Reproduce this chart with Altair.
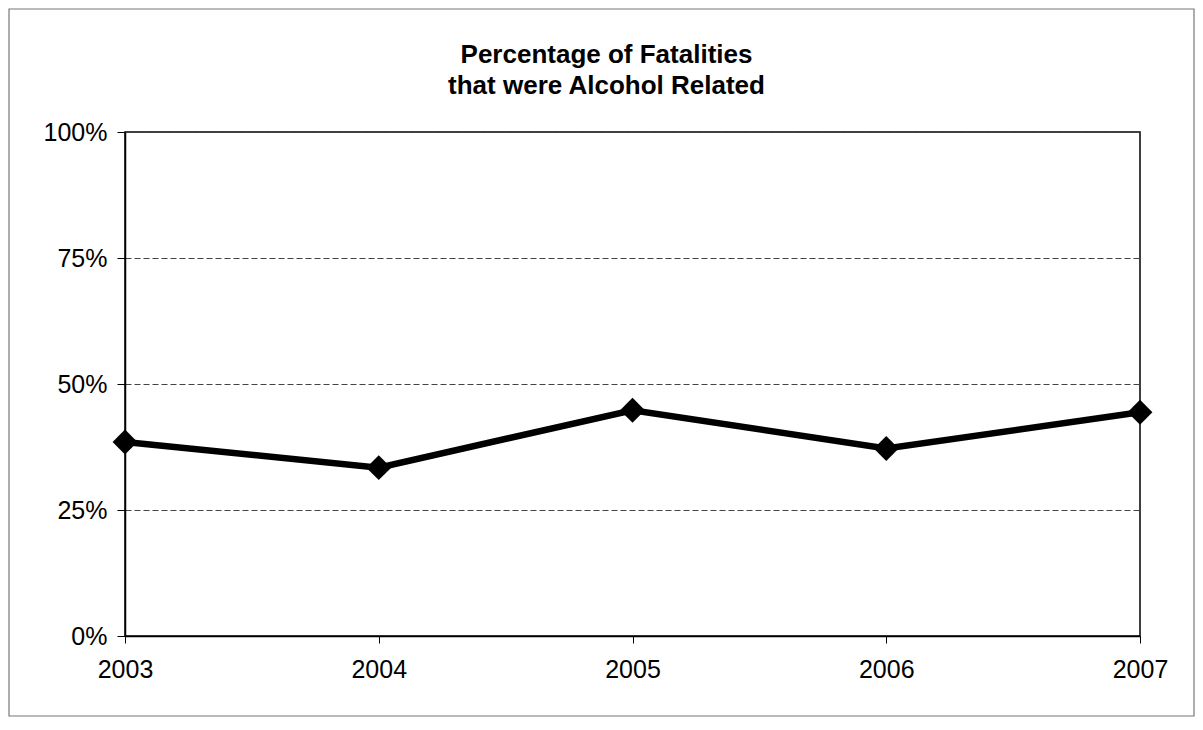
import altair as alt
import pandas as pd

years = [2003, 2004, 2005, 2006, 2007]
pct = [0.385, 0.334, 0.448, 0.372, 0.444]
y_ticks = [0, 0.25, 0.5, 0.75, 1.0]
title_lines = ["Percentage of Fatalities", "that were Alcohol Related"]

df = pd.DataFrame({"year": years, "pct": pct})
FONT = "Liberation Sans"

x_enc = alt.X("year:Q",
              scale=alt.Scale(domain=[2003, 2007], nice=False, zero=False),
              axis=alt.Axis(values=years, format="d", title=None, grid=False,
                            labelFontSize=25, labelFont=FONT, labelColor="black",
                            labelPadding=14, tickSize=7, tickColor="black",
                            domainColor="black", domainWidth=1.5, labelFlush=False))
y_enc = alt.Y("pct:Q",
              scale=alt.Scale(domain=[0, 1], nice=False),
              axis=alt.Axis(values=y_ticks, format=".0%", title=None, grid=True,
                            gridColor="#444", gridDash=[6, 3], gridWidth=1,
                            labelFontSize=25, labelFont=FONT, labelColor="black",
                            labelPadding=10, tickSize=8, tickColor="black",
                            domainColor="black", domainWidth=1.5))

base = alt.Chart(df)
line = base.mark_line(color="black", strokeWidth=6.5).encode(x=x_enc, y=y_enc)
pts = base.mark_point(shape="diamond", filled=True, color="black", size=620, opacity=1).encode(x=x_enc, y=y_enc)

frame = alt.Chart(pd.DataFrame({"k": [0]})).mark_rect(
    fill=None, stroke="#777", strokeWidth=1.2
).encode(x=alt.value(-116), x2=alt.value(1069), y=alt.value(-123), y2=alt.value(584))

chart = alt.layer(frame, line, pts).properties(
    width=1015, height=504,
    title=alt.TitleParams(text=title_lines, fontSize=26, font=FONT, fontWeight="bold",
                          color="black", anchor="middle", frame="group", dx=-26,
                          offset=-91, lineHeight=31),
    autosize=alt.AutoSizeParams(type="none"),
    padding={"left": 117, "top": 124, "right": 55, "bottom": 86},
).configure_view(stroke="black", strokeWidth=1.5)

chart.save("out.html", embed_options={"renderer": "svg", "actions": False})
